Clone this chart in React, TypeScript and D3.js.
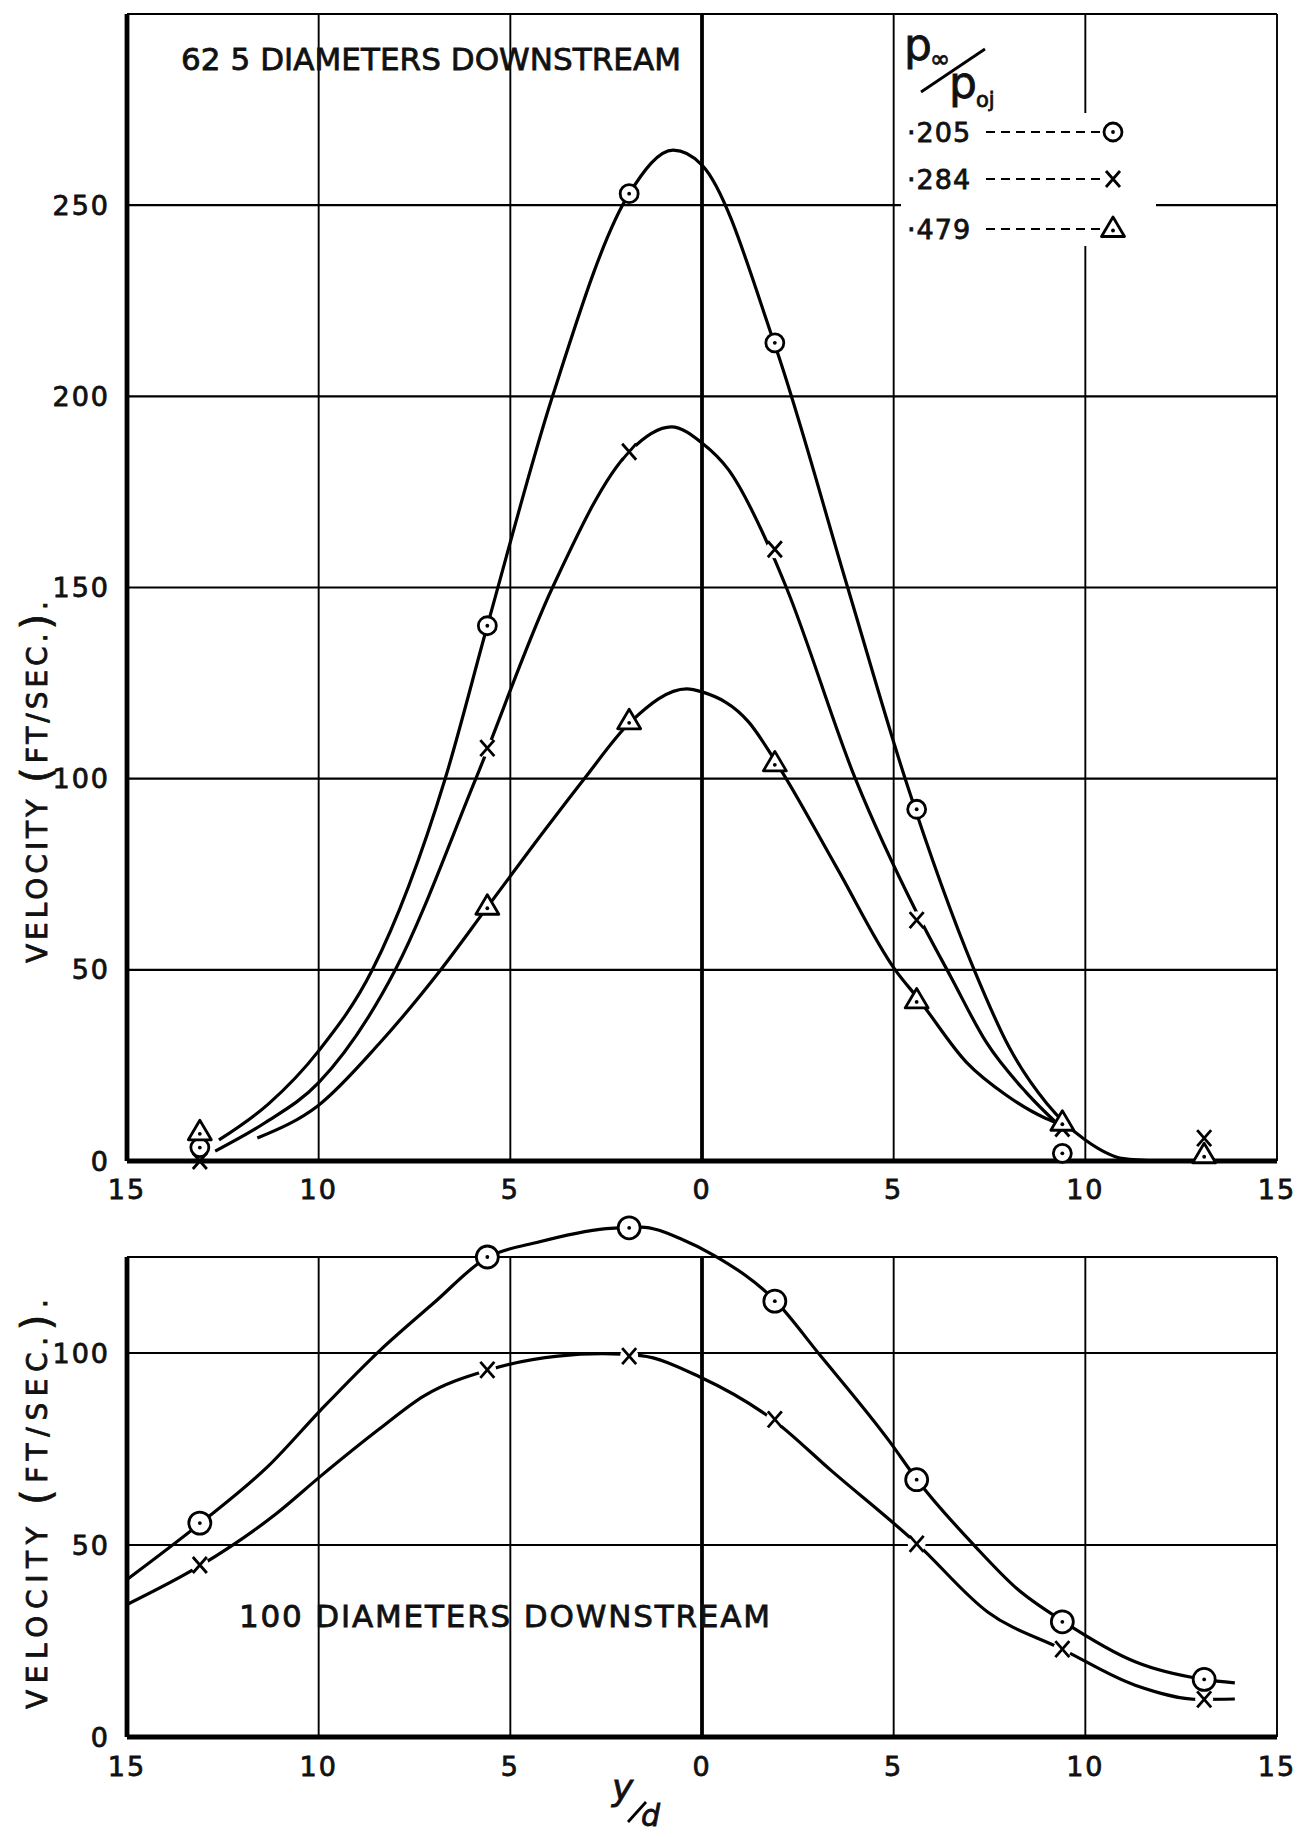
import React from 'react';
import * as d3 from 'd3';

const W = 1312;
const H = 1837;
const FONT = '"DejaVu Sans", sans-serif';

// y/d stations where the traverses were read
const stations = [-13.1, -5.6, -1.9, 1.9, 5.6, 9.4, 13.1];
const ratioLabels = ['·205', '·284', '·479'];
const xTicks = [-15, -10, -5, 0, 5, 10, 15];
const upperTicks = [0, 50, 100, 150, 200, 250];
const lowerTicks = [0, 50, 100];

// 62.5 diameters downstream, velocity ft/sec
const upper205 = [3.5, 140, 253, 214, 92, 2, null];
const upper284 = [0, 108, 185.5, 160, 63, 8.5, 6];
const upper479 = [7.5, 66.5, 115, 104, 42, 10, 1.5];

// 100 diameters downstream
const lower205 = [55.7, 125, 132.6, 113.5, 67, 30, 15];
const lower284 = [44.8, 95.6, 99.2, 82.7, 50.3, 22.9, 9.8];

// faired curves as drawn on the sheet [y/d, velocity]
const upper205Curve = [
  [-12.6, 5.5], [-11.3, 15], [-10, 28.8], [-8.6, 50], [-6.7, 100], [-5.6, 140], [-3.9, 200],
  [-1.9, 253], [-0.75, 264.4], [0, 260.5], [1.9, 213.5], [3.8, 150], [5.3, 100], [7.1, 50],
  [8.0, 30], [9.0, 15], [10, 5.5], [11, 0.6], [11.8, 0],
];
const upper284Curve = [
  [-12.7, 2.6], [-11.4, 10], [-10, 20.5], [-8.0, 50], [-5.9, 100], [-3.9, 150], [-1.9, 185.5],
  [-0.8, 192], [0, 187.8], [0.7, 180.7], [1.8, 159.5], [2.2, 150], [4.0, 100], [5.6, 65],
  [6.5, 48], [7.42, 31], [8.45, 18], [9.4, 8.5],
];
const upper479Curve = [
  [-11.6, 6], [-10, 14.6], [-8.43, 30.6], [-6.84, 49.7], [-5.6, 66.4], [-4.09, 86.7], [-3.07, 100],
  [-1.87, 114.8], [-0.4, 123.5], [0, 122.7], [1.22, 114.8], [1.97, 103.7], [3.5, 77], [5.04, 50],
  [5.66, 42.2], [6.9, 25.8], [7.94, 17.2], [8.96, 11.2], [9.4, 9.5],
];
const lower205Curve = [
  [-15, 41], [-13.08, 55.7], [-11.33, 70.4], [-9.94, 85.2], [-8.42, 100.5], [-7.0, 113], [-5.6, 124.9],
  [-4.34, 128.7], [-2.5, 132.4], [-1.6, 132.8], [-0.5, 129.5], [0.3, 125.5], [1.92, 113.5], [3.05, 99.8],
  [4.92, 76.6], [5.61, 67], [7.13, 49.6], [8.22, 38.6], [9.44, 30], [11.3, 19.6], [13.1, 15], [13.9, 14.1],
];
const lower284Curve = [
  [-15, 34.5], [-13.06, 44.8], [-11.1, 58.2], [-9.94, 68], [-8.42, 80.2], [-7.26, 88.8], [-5.57, 95.6],
  [-3.76, 99.2], [-2.6, 99.8], [-1.6, 99.3], [-0.04, 93.7], [1.84, 82.7], [3.38, 69.3], [5.61, 50.3],
  [7.46, 32.5], [9.39, 22.9], [11.3, 13.5], [13.0, 9.8], [13.9, 9.9],
];

const x = d3.scaleLinear().domain([-15, 15]).range([127, 1277]);
const yUp = d3.scaleLinear().domain([0, 300]).range([1161, 14]);
const yLo = d3.scaleLinear().domain([0, 125]).range([1737, 1257]);

const fmt = (v: number) => String(Math.abs(v));

function Marker({ kind, cx, cy, r = 9 }: { kind: string; cx: number; cy: number; r?: number }) {
  if (kind === 'circle') {
    return (
      <g transform={`translate(${cx},${cy})`}>
        <circle r={r} fill="#fff" stroke="#000" strokeWidth={2.8} />
        <circle r={1.9} fill="#000" />
      </g>
    );
  }
  if (kind === 'tri') {
    return (
      <g transform={`translate(${cx},${cy})`}>
        <path d="M0,-12L11.5,7.5L-11.5,7.5Z" fill="#fff" stroke="#000" strokeWidth={2.8} strokeLinejoin="round" />
        <circle cy={1.5} r={1.9} fill="#000" />
      </g>
    );
  }
  return (
    <g transform={`translate(${cx},${cy})`} stroke="#000" strokeWidth={2.8}>
      <path d="M-7,-8L7,8M7,-8L-7,8" />
    </g>
  );
}

function Panel({
  y, yMax, ticks, series, curves, tickY, markerR,
}: {
  y: d3.ScaleLinear<number, number>;
  yMax: number;
  ticks: number[];
  series: { kind: string; values: (number | null)[] }[];
  curves: number[][][];
  tickY: number;
  markerR: number;
}) {
  const line = d3
    .line<number[]>()
    .x((d) => x(d[0]))
    .y((d) => y(d[1]))
    .curve(d3.curveMonotoneX);
  const y0 = y(0);
  const yTop = y(yMax);
  return (
    <g>
      {xTicks.map((t) => (
        <line key={'gx' + t} x1={x(t)} x2={x(t)} y1={yTop} y2={y0} stroke="#000"
          strokeWidth={t === 0 ? 3.8 : 1.9} />
      ))}
      {ticks.concat([yMax]).map((t) => (
        <line key={'gy' + t} x1={x(-15)} x2={x(15)} y1={y(t)} y2={y(t)} stroke="#000"
          strokeWidth={2.1} />
      ))}
      {curves.map((c, i) => (
        <path key={'c' + i} d={line(c) || ''} fill="none" stroke="#000" strokeWidth={3.2} />
      ))}
      {series.map((s) =>
        s.values.map((v, i) =>
          v === null || s.kind !== 'cross' || v === 0 ? null : (
            <circle key={s.kind + 'h' + i} cx={x(stations[i])} cy={y(v)} r={9} fill="#fff" stroke="none" />
          ),
        ),
      )}
      <line x1={x(-15)} x2={x(-15)} y1={yTop} y2={y0} stroke="#000" strokeWidth={4.8} />
      <line x1={x(-15)} x2={x(15)} y1={y0} y2={y0} stroke="#000" strokeWidth={4.8} />
      {series.map((s) =>
        s.values.map((v, i) =>
          v === null ? null : (
            <Marker key={s.kind + i} kind={s.kind} cx={x(stations[i])} cy={y(v)} r={markerR} />
          ),
        ),
      )}
      {ticks.map((t) => (
        <text key={'ty' + t} x={110} y={y(t)} textAnchor="end" dominantBaseline="central"
          fontSize={27} letterSpacing={2}>{t}</text>
      ))}
      {xTicks.map((t) => (
        <text key={'tx' + t} x={x(t)} y={tickY} textAnchor="middle" dominantBaseline="central"
          fontSize={27} letterSpacing={2}>{fmt(t)}</text>
      ))}
    </g>
  );
}

function YTitle({ cx, cy, len }: { cx: number; cy: number; len: number }) {
  return (
    <text transform={`translate(${cx},${cy}) rotate(-90)`} textAnchor="middle" fontSize={28}
      textLength={len} lengthAdjust="spacing">
      VELOCITY <tspan fontSize={40} dy={3}>(</tspan><tspan dy={-3}>FT/SEC.</tspan><tspan fontSize={40} dy={3}>)</tspan><tspan dy={-3}>.</tspan>
    </text>
  );
}

export default function App() {
  const legendY = [132, 179, 229];
  const legendKinds = ['circle', 'cross', 'tri'];
  return (
    <svg width={W} height={H} viewBox={`0 0 ${W} ${H}`}
      style={{ position: 'absolute', left: 0, top: 0, background: '#fff' }}
      fontFamily={FONT} fill="#111">
      <style>{'text { stroke: #111; stroke-width: 0.8px; }'}</style>
      <rect width={W} height={H} fill="#fff" />
      <Panel y={yUp} yMax={300} ticks={upperTicks} tickY={1189} markerR={9}
        series={[
          { kind: 'circle', values: upper205 },
          { kind: 'cross', values: upper284 },
          { kind: 'tri', values: upper479 },
        ]}
        curves={[upper205Curve, upper284Curve, upper479Curve]} />
      <Panel y={yLo} yMax={125} ticks={lowerTicks} tickY={1766} markerR={11}
        series={[
          { kind: 'circle', values: lower205 },
          { kind: 'cross', values: lower284 },
        ]}
        curves={[lower205Curve, lower284Curve]} />

      <text x={181} y={70} fontSize={31} textLength={500} lengthAdjust="spacing">62 5 DIAMETERS DOWNSTREAM</text>
      <text x={239} y={1627} fontSize={31} textLength={531} lengthAdjust="spacing">100 DIAMETERS DOWNSTREAM</text>

      <YTitle cx={47} cy={782} len={362} />
      <YTitle cx={47} cy={1504} len={410} />

      {/* legend */}
      <rect x={901} y={113} width={255} height={133} fill="#fff" />
      <text x={904} y={60} fontSize={44}>p</text>
      <text x={930} y={67} fontSize={24}>∞</text>
      <line x1={921} y1={92} x2={985} y2={49} stroke="#000" strokeWidth={2.8} />
      <text x={949} y={98} fontSize={44}>p</text>
      <text x={976} y={107} fontSize={21}>oj</text>
      {ratioLabels.map((r, i) => (
        <g key={r}>
          <text x={907} y={legendY[i]} dominantBaseline="central" fontSize={27} letterSpacing={1}>{r}</text>
          <line x1={986} x2={1100} y1={legendY[i]} y2={legendY[i]} stroke="#000" strokeWidth={2.2}
            strokeDasharray="9 6" />
          <Marker kind={legendKinds[i]} cx={1113} cy={legendY[i]} />
        </g>
      ))}

      {/* y/d */}
      <text x={612} y={1800} fontSize={36} fontStyle="italic">y</text>
      <line x1={628} y1={1822} x2={646} y2={1802} stroke="#000" strokeWidth={2.8} />
      <text x={641} y={1826} fontSize={30} fontStyle="italic">d</text>
    </svg>
  );
}
